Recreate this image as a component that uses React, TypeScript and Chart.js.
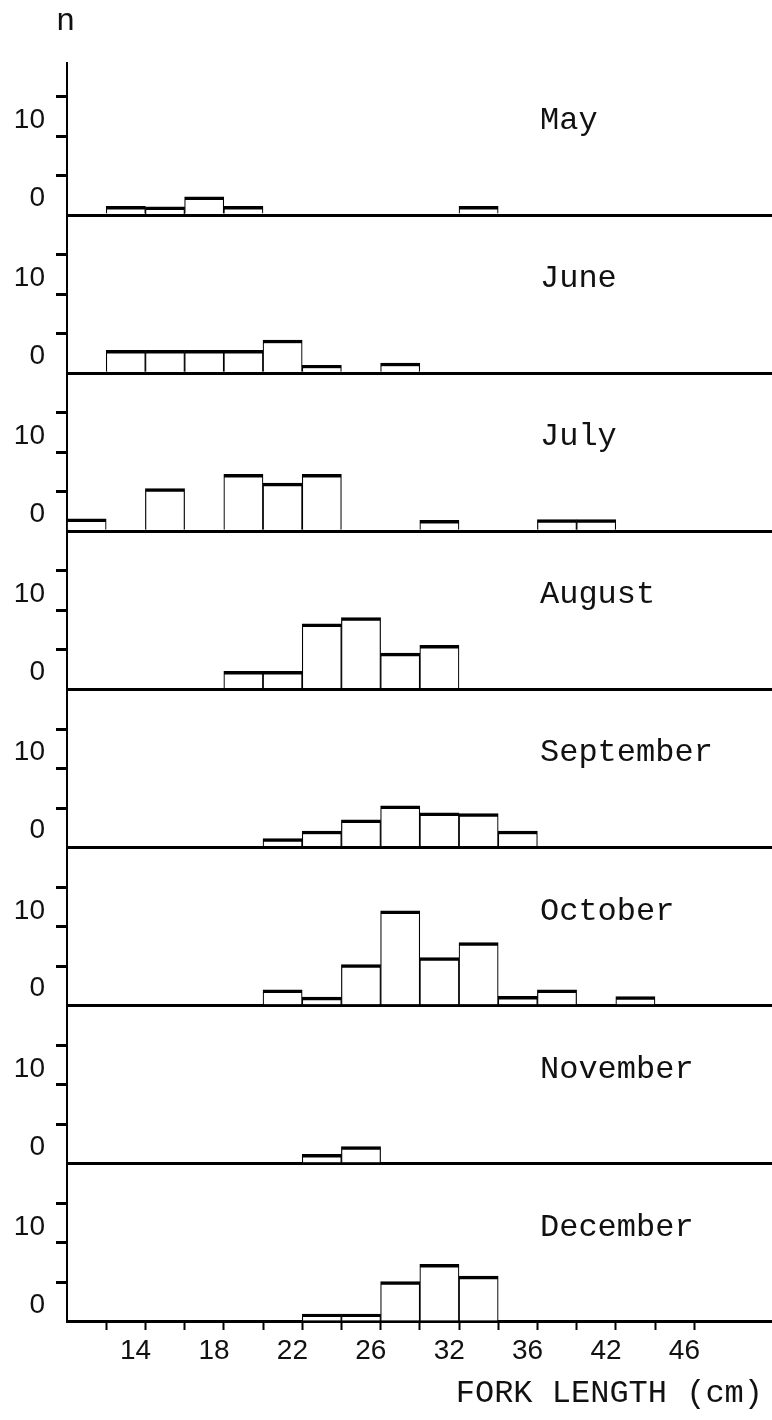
import React, { useEffect, useRef } from 'react';
import { Chart, registerables } from 'chart.js';

Chart.register(...registerables);

// ---------- data ----------
const months = ['May', 'June', 'July', 'August', 'September', 'October', 'November', 'December'];

// fork-length bins (cm), each 2 cm wide, given by their lower edge
const binStarts = [10, 12, 14, 16, 18, 20, 22, 24, 26, 28, 30, 32, 34, 36, 38, 40, 42, 44];

const mayCounts = [0, 1.1, 1.05, 2.3, 1.1, 0, 0, 0, 0, 0, 1.1, 0, 0, 0, 0, 0, 0, 0];
const juneCounts = [0, 2.9, 2.9, 2.9, 2.9, 4.2, 1.0, 0, 1.3, 0, 0, 0, 0, 0, 0, 0, 0, 0];
const julyCounts = [1.6, 0, 5.4, 0, 7.2, 6.1, 7.2, 0, 0, 1.4, 0, 0, 1.5, 1.5, 0, 0, 0, 0];
const augustCounts = [0, 0, 0, 0, 2.3, 2.3, 8.3, 9.1, 4.6, 5.6, 0, 0, 0, 0, 0, 0, 0, 0];
const septemberCounts = [0, 0, 0, 0, 0, 1.15, 2.1, 3.5, 5.3, 4.4, 4.3, 2.1, 0, 0, 0, 0, 0, 0];
const octoberCounts = [0, 0, 0, 0, 0, 2.0, 1.1, 5.2, 12.0, 6.1, 8.0, 1.2, 2.0, 0, 1.15, 0, 0, 0];
const novemberCounts = [0, 0, 0, 0, 0, 0, 1.2, 2.2, 0, 0, 0, 0, 0, 0, 0, 0, 0, 0];
const decemberCounts = [0, 0, 0, 0, 0, 0, 1.0, 1.0, 5.1, 7.3, 5.8, 0, 0, 0, 0, 0, 0, 0];

const monthCounts = [
  mayCounts, juneCounts, julyCounts, augustCounts,
  septemberCounts, octoberCounts, novemberCounts, decemberCounts,
];

// x-axis tick labels as printed on the figure, and the edges they sit at
const xTickValues = [14, 18, 22, 26, 30, 34, 38, 42];
const xTickLabels = ['14', '18', '22', '26', '32', '36', '42', '46'];

// y-axis: tick marks, and the printed labels
const yTickMarks = [5, 10, 15];
const yLabelValues = [2.15, 12];
const yLabelTexts = ['0', '10'];

// ---------- layout / style constants ----------
const W = 772;
const H = 1420;
const BIN_WIDTH = 2;
const AXIS_LEFT = 67;
const PLOT_TOP = 63;
const PLOT_BOTTOM = 1322;
const PX_PER_CM = 19.6;
const PX_PER_UNIT = 7.9;
const FIRST_PANEL_PX = 152;
const PANEL_PX = 158;
const LABEL_SHIFT = 0.5;
const MONTH_LABEL_VALUE = 10.9;
const MONTH_LABEL_X = 540;
const MONO = '"Liberation Mono", "DejaVu Sans Mono", monospace';
const SANS = '"Liberation Sans", Arial, sans-serif';
const INK = '#000';
const TEXT = '#111';
const CLEAR = 'rgba(0,0,0,0)';

const edgeTicks = binStarts.slice(1, 17);

const textPlugin = {
  id: 'panelTexts',
  afterDraw(chart: any) {
    const ctx = chart.ctx;
    ctx.save();
    ctx.fillStyle = TEXT;
    ctx.font = `32px ${MONO}`;
    ctx.textBaseline = 'alphabetic';
    ctx.textAlign = 'left';
    months.forEach((m, i) => {
      const s = chart.scales['y' + i];
      ctx.fillText(m, MONTH_LABEL_X, s.getPixelForValue(MONTH_LABEL_VALUE));
    });
    ctx.fillText('n', chart.chartArea.left - 11, 30);
    ctx.textAlign = 'right';
    ctx.fillText('FORK LENGTH (cm)', chart.chartArea.right - 9, H - 18);
    ctx.restore();
  },
};

function buildConfig(): any {
  const scales: any = {
    x: {
      type: 'linear',
      position: 'bottom',
      offset: false,
      min: binStarts[0],
      max: binStarts[0] + (W - AXIS_LEFT) / PX_PER_CM,
      afterBuildTicks: (scale: any) => {
        scale.ticks = [
          ...edgeTicks.map((v) => ({ value: v })),
          ...xTickValues.map((v) => ({ value: v - LABEL_SHIFT })),
        ];
      },
      afterFit: (scale: any) => {
        scale.height = H - PLOT_BOTTOM;
      },
      ticks: {
        autoSkip: false,
        maxRotation: 0,
        minRotation: 0,
        padding: 4,
        color: TEXT,
        font: { family: SANS, size: 28 },
        callback: (_v: any, idx: number) =>
          idx >= edgeTicks.length ? xTickLabels[idx - edgeTicks.length] : '',
      },
      grid: {
        display: true,
        offset: false,
        drawOnChartArea: false,
        drawTicks: true,
        tickLength: 8,
        tickWidth: 2,
        color: CLEAR,
        tickColor: (c: any) => (c.index < edgeTicks.length ? INK : CLEAR),
      },
      border: { display: false },
    },
  };

  months.forEach((_m, i) => {
    const px = i === 0 ? FIRST_PANEL_PX : PANEL_PX;
    scales['y' + i] = {
      type: 'linear',
      position: 'left',
      stack: 'panels',
      stackWeight: px,
      weight: months.length - i,
      min: 0,
      max: px / PX_PER_UNIT,
      afterBuildTicks: (scale: any) => {
        scale.ticks = [
          { value: 0 },
          ...yTickMarks.map((v) => ({ value: v })),
          ...yLabelValues.map((v) => ({ value: v })),
        ];
      },
      afterFit: (scale: any) => {
        scale.width = AXIS_LEFT;
      },
      ticks: {
        autoSkip: false,
        padding: 11,
        color: TEXT,
        font: { family: SANS, size: 28 },
        callback: (_v: any, idx: number) =>
          idx >= 1 + yTickMarks.length ? yLabelTexts[idx - 1 - yTickMarks.length] : '',
      },
      grid: {
        display: true,
        drawOnChartArea: true,
        drawTicks: true,
        tickLength: 11,
        tickWidth: 3,
        color: (c: any) => (c.index === 0 ? INK : CLEAR),
        lineWidth: (c: any) => (c.index === 0 ? 3 : 1),
        tickColor: (c: any) => (c.index >= 1 && c.index <= yTickMarks.length ? INK : CLEAR),
      },
      border: { display: true, color: INK, width: 2 },
    };
  });

  return {
    type: 'bar',
    data: {
      datasets: months.map((m, i) => ({
        label: m,
        data: binStarts.map((s, k) => ({ x: s + BIN_WIDTH / 2, y: monthCounts[i][k] })),
        xAxisID: 'x',
        yAxisID: 'y' + i,
        backgroundColor: '#fff',
        borderColor: INK,
        borderWidth: { top: 3.5, left: 1.2, right: 1.2, bottom: 0 },
        borderSkipped: 'start',
        grouped: false,
        barPercentage: 1,
        categoryPercentage: 1,
      })),
    },
    options: {
      responsive: false,
      animation: false,
      devicePixelRatio: 1,
      layout: { padding: { top: PLOT_TOP, left: 0, right: 0, bottom: 0 } },
      plugins: {
        legend: { display: false },
        tooltip: { enabled: false },
        title: { display: false },
      },
      scales,
    },
    plugins: [textPlugin],
  };
}

export default function App() {
  const ref = useRef<HTMLCanvasElement>(null);
  useEffect(() => {
    document.body.style.margin = '0';
    document.body.style.background = '#fff';
    const chart = new Chart(ref.current as HTMLCanvasElement, buildConfig());
    return () => chart.destroy();
  }, []);
  return (
    <div style={{ width: W, height: H, position: 'relative', background: '#fff' }}>
      <canvas ref={ref} width={W} height={H} style={{ display: 'block', width: W, height: H }} />
    </div>
  );
}
